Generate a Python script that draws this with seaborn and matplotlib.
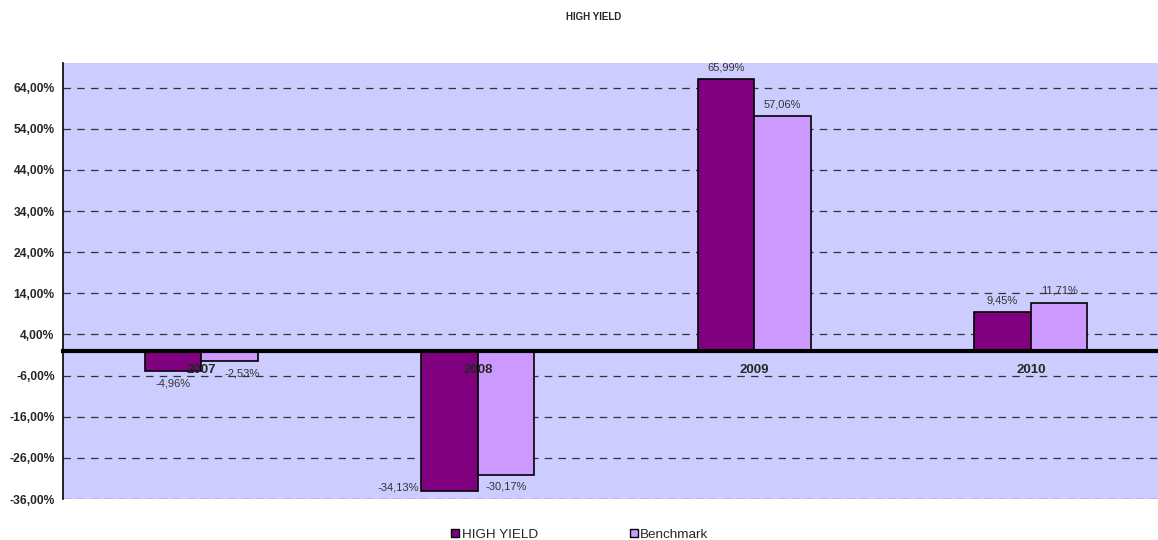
import pandas as pd
import seaborn as sns
import matplotlib.pyplot as plt
from matplotlib.ticker import FixedLocator, FuncFormatter

# --- DATA ---
years = ["2007", "2008", "2009", "2010"]
high_yield = [-4.96, -34.13, 65.99, 9.45]
benchmark = [-2.53, -30.17, 57.06, 11.71]
series_names = ["HIGH YIELD", "Benchmark"]
y_ticks = [-36, -26, -16, -6, 4, 14, 24, 34, 44, 54, 64]

colors = ["#800080", "#CC99FF"]


def fmt_pct(v):
    return f"{v:.2f}%".replace(".", ",")


df = pd.DataFrame({
    "year": years * 2,
    "value": high_yield + benchmark,
    "series": [series_names[0]] * len(years) + [series_names[1]] * len(years),
})

sns.set_style("white")
plt.rcParams["font.family"] = ["Liberation Sans", "DejaVu Sans"]

fig = plt.figure(figsize=(11.58, 5.40), dpi=100)
ax = fig.add_axes([63 / 1158, 1 - 499 / 540, 1 - 63 / 1158, (499 - 63) / 540])
ax.set_facecolor("#CCCCFF")

sns.barplot(data=df, x="year", y="value", hue="series", palette=colors,
            width=0.41, edgecolor="black", linewidth=1.2, saturation=1,
            ax=ax, zorder=3)

# data labels
label_sets = []
for cont in ax.containers:
    labels = [fmt_pct(b.get_height()) for b in cont]
    label_sets.append(ax.bar_label(cont, labels=labels, padding=5,
                                   fontsize=8, color="#333333"))

# Excel nudged a couple of labels: -34,13% sits left of the bar, -2,53% right
label_sets[0][1].xyann = (-37, 6)
label_sets[1][0].xyann = (9, -5)

# the last category is cut slightly by the right edge in the original
ax.set_ylim(-36, 70)
ax.set_xlim(-0.5, 3.46)
ax.yaxis.set_major_locator(FixedLocator(y_ticks))
ax.yaxis.set_major_formatter(FuncFormatter(lambda v, p: fmt_pct(v)))
ax.yaxis.grid(True, linestyle=(0, (6, 5)), color="#333333", linewidth=0.9, zorder=1)
ax.set_axisbelow(True)

ax.set_xlabel("")
ax.set_ylabel("")

# spines: bottom axis sits on zero
for s in ["top", "right"]:
    ax.spines[s].set_visible(False)
ax.spines["left"].set_linewidth(1.2)
ax.spines["left"].set_color("black")
ax.spines["bottom"].set_position(("data", 0))
ax.spines["bottom"].set_linewidth(3)
ax.spines["bottom"].set_color("black")
ax.spines["bottom"].set_zorder(5)

ax.tick_params(axis="y", direction="out", length=4, width=1, labelsize=8.7, pad=2)
for t in ax.get_yticklabels():
    t.set_fontweight("bold")

# category labels drawn over the bars, just under the zero line
ax.tick_params(axis="x", which="major", length=0, labelbottom=False)
for i, yr in enumerate(years):
    ax.annotate(yr, xy=(i, 0), xytext=(0, -14), textcoords="offset points",
                ha="center", va="center", fontsize=9.5, fontweight="bold",
                zorder=10)
ax.set_xticks([-0.5, 0.5, 1.5, 2.5], minor=True)
ax.tick_params(axis="x", which="minor", direction="inout", length=4, width=2.5)

# legend
handles, labels = ax.get_legend_handles_labels()
ax.legend(handles, labels, loc="center", bbox_to_anchor=(0.472, -0.082),
          ncol=2, frameon=False, fontsize=9.7, columnspacing=6.8,
          handlelength=0.6, handleheight=0.6, handletextpad=0.2,
          borderaxespad=0, borderpad=0)
for h in ax.get_legend().legend_handles:
    h.set_edgecolor("black")
    h.set_linewidth(1)

fig.text(594 / 1158, 1 - 17 / 540, "HIGH YIELD", ha="center", va="center",
         fontsize=7, fontweight="bold")

plt.savefig("out.png", dpi=100)
